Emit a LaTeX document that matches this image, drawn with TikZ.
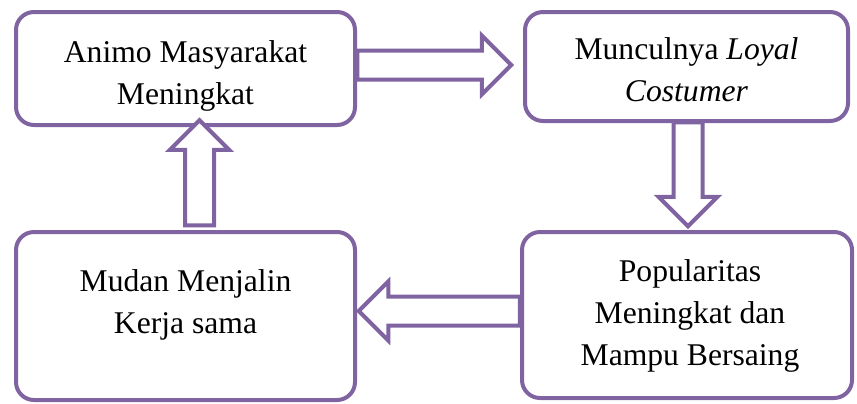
\documentclass[tikz,border=0pt]{standalone}
\usepackage{fontspec}
\setmainfont{Liberation Serif}
\usepackage{tikz}
\usetikzlibrary{shapes.arrows}
\definecolor{ungu}{HTML}{8064A2}

\tikzset{
  kotak/.style={draw=ungu, line width=4*0.02cm, rounded corners=0.36cm, fill=white, inner sep=0pt},
  teks/.style={align=center, font=\fontsize{18}{23.8}\selectfont, inner sep=0pt},
  panah/.style={single arrow, draw=ungu, line width=4*0.02cm, fill=white, inner xsep=0pt, inner ysep=0.25cm,
    single arrow head extend=0.3cm, minimum width=1.1cm}
}

\begin{document}
\begin{tikzpicture}[x=0.02cm, y=-0.02cm]
\useasboundingbox (0,0) rectangle (857,403);
\node[kotak, minimum width=339*0.02cm, minimum height=113*0.02cm] (animo) at (185.5,68.5) {};
\node[kotak, minimum width=323*0.02cm, minimum height=109*0.02cm] (loyal) at (686.5,66.5) {};
\node[kotak, minimum width=339*0.02cm, minimum height=168*0.02cm] (kerja) at (185.5,316) {};
\node[kotak, minimum width=330*0.02cm, minimum height=166*0.02cm] (populer) at (687,315) {};
\node[teks] (animoteks) at (185.5,76) {Animo Masyarakat\\Meningkat};
\node[teks] (loyalteks) at (686.5,70) {Munculnya \textit{Loyal}\\\textit{Costumer}};
\node[teks] (kerjateks) at (185.5,305) {Mudan Menjalin\\Kerja sama};
\node[teks] (populerteks) at (690,316) {Popularitas\\Meningkat dan\\Mampu Bersaing};
\node[panah, minimum height=154*0.02cm] (p1) at (427,65) {};
\node[panah, minimum height=104*0.02cm, rotate=-90] (p2) at (688,167) {};
\node[panah, minimum height=161*0.02cm, rotate=180] (p3) at (446.5,311) {};
\node[panah, minimum height=105*0.02cm, rotate=90] (p4) at (199.5,180) {};
\end{tikzpicture}
\end{document}
